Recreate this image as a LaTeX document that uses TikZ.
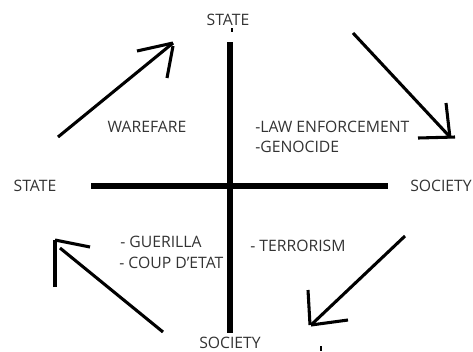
\documentclass[tikz,border=0pt]{standalone}
\usepackage{fontspec}
\setmainfont{Open Sans}

\begin{document}
\begin{tikzpicture}[x=0.75pt,y=-0.75pt,
  lbl/.style={text=black!80, font=\fontsize{11.8}{14}\selectfont, inner sep=0pt},
  axis/.style={line width=3.8pt},
  pen/.style={line width=2.3pt}]
\useasboundingbox (0,0) rectangle (473,351);

% poles
\node[lbl] (stateT) at (228,20) {STATE};
\node[lbl] (stateL) at (35,186) {STATE};
\node[lbl, anchor=east] (socR) at (472,186) {SOCIETY};
\node[lbl] (socB) at (230,343) {SOCIETY};

% quadrant texts
\node[lbl] (war) at (147,127) {WAREFARE};
\node[lbl, anchor=west] (law) at (255,127) {-LAW ENFORCEMENT};
\node[lbl, anchor=west] (geno) at (255,147) {-GENOCIDE};
\node[lbl, anchor=west] (guer) at (120,242) {- GUERILLA};
\node[lbl, anchor=west] (coup) at (119,263) {- COUP D\char39 ETAT};
\node[lbl, anchor=west] (terr) at (250,246) {- TERRORISM};

% axes
\coordinate (vT) at (230,42);
\coordinate (vB) at (230,333);
\coordinate (hL) at (91,186);
\coordinate (hR) at (388,186);
\draw[axis] (vT) -- (vB);
\draw[axis] (hL) -- (hR);

% little stray marks
\draw[line width=0.8pt] (232,28) -- (232,32);
\draw[line width=1pt] (321,346) -- (321,351);

% arrow up-left quadrant
\coordinate (a1s) at (58,137);
\coordinate (a1t) at (173,43);
\draw[pen] (a1s) -- (a1t);
\draw[pen] (137,51) -- (a1t);
\draw[pen] (173,46) -- (167,78);

% arrow up-right quadrant
\coordinate (a2s) at (353,33);
\coordinate (a2t) at (450,137);
\draw[pen] (a2s) -- (a2t);
\draw[pen] (446,103) -- (450,138);
\draw[pen] (418,138) -- (455,137);

% arrow down-right quadrant
\coordinate (a3s) at (405,236);
\coordinate (a3t) at (311,325);
\draw[pen] (a3s) -- (a3t);
\draw[pen] (308,290) -- (310,325);
\draw[pen] (a3t) -- (348,320);

% arrow down-left quadrant
\coordinate (a4s) at (163,332);
\coordinate (a4t) at (60,248);
\draw[pen] (a4s) -- (a4t);
\draw[pen] (55,287) -- (55,240);
\draw[pen] (55,240) -- (90,247);

\end{tikzpicture}
\end{document}
